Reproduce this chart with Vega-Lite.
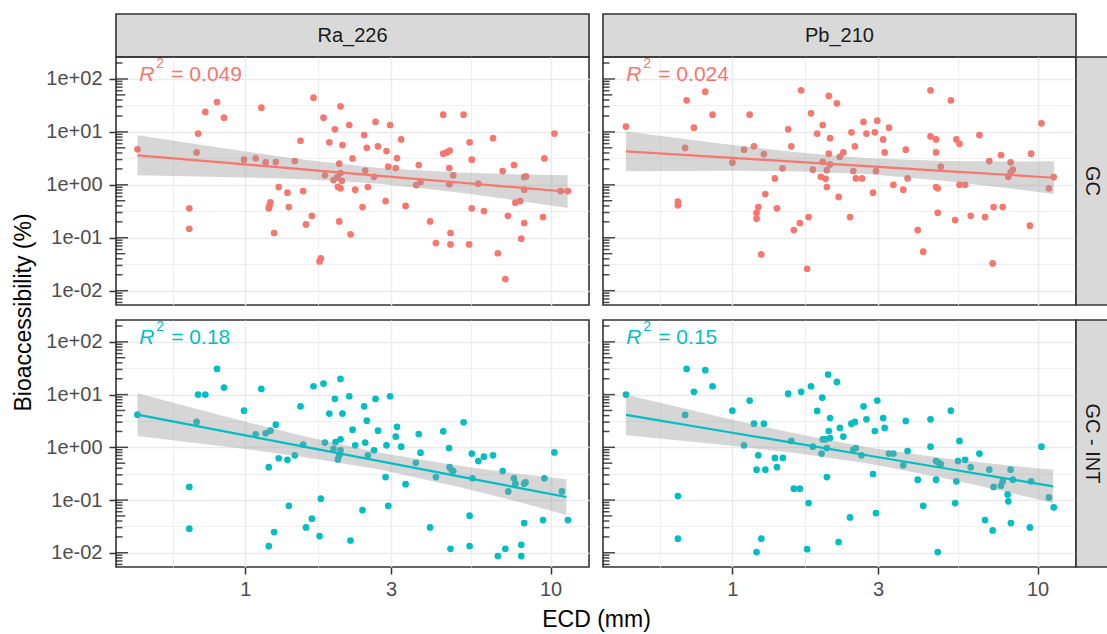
{
"$schema":"https://vega.github.io/schema/vega-lite/v6.json",
"padding":{"left":12,"top":13,"right":0,"bottom":0},
"background":"white",
"config":{
 "font":"Liberation Sans",
 "view":{"stroke":"#333333","strokeWidth":1.6},
 "axis":{"gridColor":"#EBEBEB","domain":false,"labelFont":"Liberation Sans","titleFont":"Liberation Sans","labelFontSize":20,"labelColor":"#4D4D4D","titleFontSize":23,"titleFontWeight":"normal","titleColor":"#000000","tickColor":"#333333","tickWidth":1.5,"tickSize":7,"labelPadding":7,"titlePadding":10}
},
"datasets":{
 "ticks":[{"v":0.006,"k":"s"},{"v":0.007,"k":"s"},{"v":0.008,"k":"s"},{"v":0.009,"k":"s"},{"v":0.01,"k":"L"},{"v":0.02,"k":"s"},{"v":0.03,"k":"s"},{"v":0.04,"k":"s"},{"v":0.05,"k":"m"},{"v":0.06,"k":"s"},{"v":0.07,"k":"s"},{"v":0.08,"k":"s"},{"v":0.09,"k":"s"},{"v":0.1,"k":"L"},{"v":0.2,"k":"s"},{"v":0.3,"k":"s"},{"v":0.4,"k":"s"},{"v":0.5,"k":"m"},{"v":0.6,"k":"s"},{"v":0.7,"k":"s"},{"v":0.8,"k":"s"},{"v":0.9,"k":"s"},{"v":1,"k":"L"},{"v":2,"k":"s"},{"v":3,"k":"s"},{"v":4,"k":"s"},{"v":5,"k":"m"},{"v":6,"k":"s"},{"v":7,"k":"s"},{"v":8,"k":"s"},{"v":9,"k":"s"},{"v":10,"k":"L"},{"v":20,"k":"s"},{"v":30,"k":"s"},{"v":40,"k":"s"},{"v":50,"k":"m"},{"v":60,"k":"s"},{"v":70,"k":"s"},{"v":80,"k":"s"},{"v":90,"k":"s"},{"v":100,"k":"L"},{"v":200,"k":"s"}],
 "ra_gc":[{"ecd":0.443,"bio":4.7},{"ecd":0.655,"bio":0.36},{"ecd":0.655,"bio":0.148},{"ecd":0.692,"bio":4.1},{"ecd":0.70,"bio":9.3},{"ecd":0.739,"bio":23.8},{"ecd":0.807,"bio":36.7},{"ecd":0.851,"bio":18.6},{"ecd":0.99,"bio":2.99},{"ecd":1.081,"bio":3.17},{"ecd":1.128,"bio":28.7},{"ecd":1.166,"bio":2.66},{"ecd":1.193,"bio":0.36},{"ecd":1.208,"bio":0.467},{"ecd":1.2,"bio":0.41},{"ecd":1.242,"bio":0.123},{"ecd":1.258,"bio":2.69},{"ecd":1.286,"bio":0.908},{"ecd":1.374,"bio":0.71},{"ecd":1.388,"bio":0.38},{"ecd":1.452,"bio":2.82},{"ecd":1.516,"bio":6.8},{"ecd":1.546,"bio":0.764},{"ecd":1.58,"bio":0.179},{"ecd":1.651,"bio":0.26},{"ecd":1.672,"bio":44.3},{"ecd":1.75,"bio":0.0357},{"ecd":1.767,"bio":0.0408},{"ecd":1.803,"bio":18.6},{"ecd":1.822,"bio":1.51},{"ecd":1.884,"bio":6.35},{"ecd":1.945,"bio":1.23},{"ecd":1.965,"bio":11.2},{"ecd":2.0,"bio":1.38},{"ecd":2.01,"bio":0.92},{"ecd":2.03,"bio":2.51},{"ecd":2.03,"bio":0.204},{"ecd":2.05,"bio":30.4},{"ecd":2.05,"bio":1.67},{"ecd":2.05,"bio":0.86},{"ecd":2.07,"bio":1.19},{"ecd":2.08,"bio":5.65},{"ecd":2.19,"bio":13.5},{"ecd":2.21,"bio":0.116},{"ecd":2.245,"bio":3.16},{"ecd":2.29,"bio":0.81},{"ecd":2.42,"bio":0.38},{"ecd":2.45,"bio":8.7},{"ecd":2.47,"bio":1.85},{"ecd":2.50,"bio":5.0},{"ecd":2.52,"bio":0.91},{"ecd":2.64,"bio":1.42},{"ecd":2.67,"bio":15.4},{"ecd":2.72,"bio":5.33},{"ecd":2.88,"bio":0.494},{"ecd":2.90,"bio":4.36},{"ecd":2.94,"bio":2.2},{"ecd":2.98,"bio":13.5},{"ecd":3.11,"bio":2.08},{"ecd":3.14,"bio":3.2},{"ecd":3.24,"bio":7.2},{"ecd":3.35,"bio":0.40},{"ecd":3.63,"bio":0.99},{"ecd":3.70,"bio":2.36},{"ecd":3.75,"bio":1.13},{"ecd":4.03,"bio":0.204},{"ecd":4.21,"bio":0.0794},{"ecd":4.45,"bio":21.2},{"ecd":4.45,"bio":3.88},{"ecd":4.57,"bio":4.1},{"ecd":4.67,"bio":4.42},{"ecd":4.66,"bio":2.08},{"ecd":4.66,"bio":1.03},{"ecd":4.70,"bio":0.123},{"ecd":4.70,"bio":0.075},{"ecd":4.80,"bio":1.51},{"ecd":5.19,"bio":21.2},{"ecd":5.43,"bio":6.35},{"ecd":5.52,"bio":2.99},{"ecd":5.52,"bio":0.36},{"ecd":5.41,"bio":0.075},{"ecd":5.80,"bio":1.05},{"ecd":6.05,"bio":0.32},{"ecd":6.48,"bio":7.6},{"ecd":6.72,"bio":0.051},{"ecd":6.97,"bio":1.82},{"ecd":7.11,"bio":0.0166},{"ecd":7.25,"bio":0.26},{"ecd":7.59,"bio":2.36},{"ecd":7.67,"bio":0.46},{"ecd":7.96,"bio":0.494},{"ecd":8.02,"bio":0.096},{"ecd":8.20,"bio":1.40},{"ecd":8.20,"bio":0.81},{"ecd":8.20,"bio":0.19},{"ecd":8.31,"bio":1.44},{"ecd":9.45,"bio":0.246},{"ecd":9.55,"bio":3.16},{"ecd":10.3,"bio":9.3},{"ecd":10.8,"bio":0.764},{"ecd":11.4,"bio":0.764}],
 "pb_gc":[{"ecd":0.448,"bio":12.6},{"ecd":0.663,"bio":0.48},{"ecd":0.663,"bio":0.41},{"ecd":0.70,"bio":4.97},{"ecd":0.708,"bio":39.5},{"ecd":0.748,"bio":12},{"ecd":0.815,"bio":57.5},{"ecd":0.861,"bio":21.2},{"ecd":1.0,"bio":2.62},{"ecd":1.092,"bio":4.61},{"ecd":1.139,"bio":21.2},{"ecd":1.177,"bio":5.33},{"ecd":1.20,"bio":0.229},{"ecd":1.20,"bio":0.297},{"ecd":1.216,"bio":0.38},{"ecd":1.244,"bio":0.0484},{"ecd":1.268,"bio":3.82},{"ecd":1.282,"bio":0.67},{"ecd":1.378,"bio":1.32},{"ecd":1.40,"bio":0.36},{"ecd":1.46,"bio":2.05},{"ecd":1.524,"bio":11.2},{"ecd":1.56,"bio":5.33},{"ecd":1.59,"bio":0.14},{"ecd":1.664,"bio":0.19},{"ecd":1.68,"bio":61},{"ecd":1.758,"bio":0.026},{"ecd":1.777,"bio":0.246},{"ecd":1.81,"bio":22.4},{"ecd":1.835,"bio":1.93},{"ecd":1.896,"bio":9.3},{"ecd":1.95,"bio":1.42},{"ecd":1.977,"bio":13.5},{"ecd":1.977,"bio":2.73},{"ecd":2.02,"bio":1.30},{"ecd":2.04,"bio":0.91},{"ecd":2.04,"bio":1.90},{"ecd":2.07,"bio":47.8},{"ecd":2.07,"bio":3.88},{"ecd":2.09,"bio":7.6},{"ecd":2.09,"bio":2.43},{"ecd":2.2,"bio":34.7},{"ecd":2.23,"bio":0.59},{"ecd":2.25,"bio":3.39},{"ecd":2.31,"bio":4.1},{"ecd":2.43,"bio":0.246},{"ecd":2.455,"bio":9.8},{"ecd":2.49,"bio":1.82},{"ecd":2.52,"bio":5.33},{"ecd":2.54,"bio":1.32},{"ecd":2.66,"bio":1.32},{"ecd":2.69,"bio":15.4},{"ecd":2.75,"bio":9.3},{"ecd":2.89,"bio":0.71},{"ecd":2.93,"bio":9.8},{"ecd":2.955,"bio":1.82},{"ecd":2.985,"bio":16.3},{"ecd":3.12,"bio":7.2},{"ecd":3.155,"bio":4.1},{"ecd":3.26,"bio":12},{"ecd":3.37,"bio":1.0},{"ecd":3.63,"bio":0.81},{"ecd":3.70,"bio":4.61},{"ecd":3.75,"bio":1.32},{"ecd":4.05,"bio":0.14},{"ecd":4.22,"bio":0.0545},{"ecd":4.46,"bio":61},{"ecd":4.46,"bio":8.2},{"ecd":4.65,"bio":7.2},{"ecd":4.65,"bio":4.1},{"ecd":4.65,"bio":0.91},{"ecd":4.71,"bio":0.86},{"ecd":4.71,"bio":0.297},{"ecd":4.82,"bio":2.2},{"ecd":5.2,"bio":39.5},{"ecd":5.37,"bio":0.216},{"ecd":5.42,"bio":7.2},{"ecd":5.55,"bio":5.97},{"ecd":5.55,"bio":1.0},{"ecd":5.79,"bio":1.0},{"ecd":6.04,"bio":0.26},{"ecd":6.45,"bio":8.7},{"ecd":6.73,"bio":0.246},{"ecd":6.95,"bio":2.81},{"ecd":7.13,"bio":0.0327},{"ecd":7.18,"bio":0.38},{"ecd":7.59,"bio":3.66},{"ecd":7.69,"bio":0.38},{"ecd":8.02,"bio":1.42},{"ecd":8.16,"bio":2.66},{"ecd":8.16,"bio":1.71},{"ecd":8.3,"bio":1.93},{"ecd":9.44,"bio":0.169},{"ecd":9.53,"bio":3.88},{"ecd":10.3,"bio":14.5},{"ecd":10.9,"bio":0.86},{"ecd":11.3,"bio":1.40}],
 "ra_int":[{"ecd":0.443,"bio":4.17},{"ecd":0.655,"bio":0.177},{"ecd":0.655,"bio":0.0286},{"ecd":0.692,"bio":3.03},{"ecd":0.70,"bio":10},{"ecd":0.739,"bio":10},{"ecd":0.807,"bio":30.7},{"ecd":0.851,"bio":13.6},{"ecd":0.99,"bio":4.96},{"ecd":1.081,"bio":1.77},{"ecd":1.128,"bio":12.8},{"ecd":1.166,"bio":1.85},{"ecd":1.193,"bio":0.42},{"ecd":1.193,"bio":0.0134},{"ecd":1.208,"bio":2.07},{"ecd":1.242,"bio":0.0247},{"ecd":1.258,"bio":2.69},{"ecd":1.286,"bio":0.62},{"ecd":1.374,"bio":0.58},{"ecd":1.388,"bio":0.078},{"ecd":1.452,"bio":0.705},{"ecd":1.516,"bio":6.0},{"ecd":1.546,"bio":1.12},{"ecd":1.58,"bio":0.0303},{"ecd":1.651,"bio":0.0443},{"ecd":1.672,"bio":14.4},{"ecd":1.75,"bio":0.0207},{"ecd":1.767,"bio":0.106},{"ecd":1.803,"bio":16.2},{"ecd":1.822,"bio":1.23},{"ecd":1.884,"bio":4.36},{"ecd":1.945,"bio":0.94},{"ecd":1.965,"bio":8.3},{"ecd":1.975,"bio":1.26},{"ecd":2.01,"bio":0.59},{"ecd":2.03,"bio":0.705},{"ecd":2.05,"bio":19.8},{"ecd":2.05,"bio":1.42},{"ecd":2.05,"bio":0.88},{"ecd":2.08,"bio":4.36},{"ecd":2.19,"bio":9.3},{"ecd":2.21,"bio":0.0171},{"ecd":2.245,"bio":2.16},{"ecd":2.29,"bio":1.09},{"ecd":2.42,"bio":0.0645},{"ecd":2.45,"bio":6.0},{"ecd":2.47,"bio":1.23},{"ecd":2.50,"bio":3.2},{"ecd":2.52,"bio":0.705},{"ecd":2.64,"bio":0.88},{"ecd":2.67,"bio":8.3},{"ecd":2.72,"bio":2.07},{"ecd":2.88,"bio":0.273},{"ecd":2.90,"bio":1.09},{"ecd":2.94,"bio":0.078},{"ecd":2.98,"bio":9.3},{"ecd":3.11,"bio":1.6},{"ecd":3.14,"bio":2.45},{"ecd":3.24,"bio":1.03},{"ecd":3.35,"bio":0.2},{"ecd":3.62,"bio":0.51},{"ecd":3.70,"bio":1.79},{"ecd":3.75,"bio":0.79},{"ecd":4.03,"bio":0.0303},{"ecd":4.21,"bio":0.273},{"ecd":4.45,"bio":2.01},{"ecd":4.65,"bio":0.97},{"ecd":4.67,"bio":0.42},{"ecd":4.70,"bio":0.0119},{"ecd":4.75,"bio":0.366},{"ecd":4.80,"bio":0.355},{"ecd":5.19,"bio":2.99},{"ecd":5.43,"bio":0.0505},{"ecd":5.43,"bio":0.0134},{"ecd":5.52,"bio":0.76},{"ecd":5.55,"bio":0.258},{"ecd":5.80,"bio":0.55},{"ecd":6.05,"bio":0.665},{"ecd":6.48,"bio":0.705},{"ecd":6.72,"bio":0.00865},{"ecd":6.97,"bio":0.355},{"ecd":7.11,"bio":0.0119},{"ecd":7.27,"bio":0.146},{"ecd":7.59,"bio":0.258},{"ecd":7.67,"bio":0.204},{"ecd":8.02,"bio":0.0142},{"ecd":8.02,"bio":0.00865},{"ecd":8.20,"bio":0.204},{"ecd":8.20,"bio":0.0366},{"ecd":8.28,"bio":0.216},{"ecd":9.45,"bio":0.0417},{"ecd":9.55,"bio":0.258},{"ecd":10.3,"bio":0.80},{"ecd":10.9,"bio":0.146},{"ecd":11.4,"bio":0.0417}],
 "pb_int":[{"ecd":0.448,"bio":10},{"ecd":0.663,"bio":0.119},{"ecd":0.663,"bio":0.0185},{"ecd":0.70,"bio":4.11},{"ecd":0.708,"bio":30.7},{"ecd":0.748,"bio":11.3},{"ecd":0.815,"bio":29},{"ecd":0.861,"bio":14.4},{"ecd":1.0,"bio":4.96},{"ecd":1.092,"bio":1.09},{"ecd":1.139,"bio":7.7},{"ecd":1.177,"bio":2.81},{"ecd":1.20,"bio":0.377},{"ecd":1.20,"bio":0.0103},{"ecd":1.216,"bio":0.705},{"ecd":1.244,"bio":0.0185},{"ecd":1.268,"bio":2.81},{"ecd":1.282,"bio":0.377},{"ecd":1.378,"bio":0.63},{"ecd":1.40,"bio":0.42},{"ecd":1.464,"bio":0.63},{"ecd":1.524,"bio":10.4},{"ecd":1.56,"bio":1.32},{"ecd":1.59,"bio":0.164},{"ecd":1.664,"bio":0.164},{"ecd":1.68,"bio":11.3},{"ecd":1.758,"bio":0.0117},{"ecd":1.777,"bio":0.0877},{"ecd":1.81,"bio":14.4},{"ecd":1.835,"bio":1.03},{"ecd":1.896,"bio":4.9},{"ecd":1.96,"bio":0.76},{"ecd":1.97,"bio":8.8},{"ecd":1.977,"bio":1.42},{"ecd":2.02,"bio":1.42},{"ecd":2.04,"bio":0.273},{"ecd":2.04,"bio":0.97},{"ecd":2.06,"bio":24},{"ecd":2.07,"bio":2.04},{"ecd":2.09,"bio":3.6},{"ecd":2.09,"bio":1.5},{"ecd":2.2,"bio":17.4},{"ecd":2.23,"bio":0.016},{"ecd":2.25,"bio":2.33},{"ecd":2.31,"bio":1.6},{"ecd":2.43,"bio":0.0469},{"ecd":2.455,"bio":2.81},{"ecd":2.52,"bio":3.03},{"ecd":2.49,"bio":0.90},{"ecd":2.54,"bio":0.97},{"ecd":2.65,"bio":0.705},{"ecd":2.69,"bio":6.0},{"ecd":2.75,"bio":3.4},{"ecd":2.89,"bio":0.312},{"ecd":2.93,"bio":2.04},{"ecd":2.955,"bio":0.0566},{"ecd":2.985,"bio":7.7},{"ecd":3.12,"bio":3.6},{"ecd":3.155,"bio":2.33},{"ecd":3.26,"bio":0.76},{"ecd":3.37,"bio":0.76},{"ecd":3.63,"bio":0.455},{"ecd":3.70,"bio":3.16},{"ecd":3.75,"bio":0.85},{"ecd":4.05,"bio":0.243},{"ecd":4.22,"bio":0.078},{"ecd":4.46,"bio":3.4},{"ecd":4.46,"bio":1.03},{"ecd":4.65,"bio":0.55},{"ecd":4.65,"bio":0.243},{"ecd":4.71,"bio":0.0103},{"ecd":4.72,"bio":0.52},{"ecd":4.82,"bio":0.483},{"ecd":5.2,"bio":4.96},{"ecd":5.37,"bio":0.0877},{"ecd":5.42,"bio":0.226},{"ecd":5.49,"bio":0.55},{"ecd":5.55,"bio":1.32},{"ecd":5.79,"bio":0.58},{"ecd":6.04,"bio":0.42},{"ecd":6.45,"bio":0.76},{"ecd":6.73,"bio":0.0417},{"ecd":6.95,"bio":0.377},{"ecd":7.13,"bio":0.0265},{"ecd":7.18,"bio":0.177},{"ecd":7.59,"bio":0.187},{"ecd":7.69,"bio":0.226},{"ecd":7.98,"bio":0.128},{"ecd":8.02,"bio":0.0944},{"ecd":8.16,"bio":0.377},{"ecd":8.18,"bio":0.0366},{"ecd":8.3,"bio":0.243},{"ecd":9.44,"bio":0.0303},{"ecd":9.53,"bio":0.226},{"ecd":10.3,"bio":1.03},{"ecd":10.9,"bio":0.112},{"ecd":11.3,"bio":0.0726}],
 "fit_ra_gc":[{"ecd":0.443,"fit":3.61,"lo":1.51,"hi":8.61},{"ecd":1.0,"fit":2.43,"lo":1.38,"hi":4.26},{"ecd":1.585,"fit":1.94,"lo":1.27,"hi":2.95},{"ecd":2.754,"fit":1.48,"lo":1.047,"hi":2.09},{"ecd":5.01,"fit":1.107,"lo":0.717,"hi":1.708},{"ecd":7.94,"fit":0.883,"lo":0.495,"hi":1.574},{"ecd":11.38,"fit":0.741,"lo":0.364,"hi":1.51}],
 "fit_pb_gc":[{"ecd":0.448,"fit":4.30,"lo":1.81,"hi":10.2},{"ecd":1.0,"fit":3.23,"lo":1.84,"hi":5.66},{"ecd":1.585,"fit":2.74,"lo":1.80,"hi":4.18},{"ecd":2.754,"fit":2.25,"lo":1.60,"hi":3.18},{"ecd":5.01,"fit":1.82,"lo":1.18,"hi":2.82},{"ecd":7.94,"fit":1.55,"lo":0.869,"hi":2.76},{"ecd":11.32,"fit":1.36,"lo":0.67,"hi":2.78}],
 "fit_ra_int":[{"ecd":0.443,"fit":4.17,"lo":1.64,"hi":10.6},{"ecd":1.0,"fit":1.68,"lo":0.925,"hi":3.06},{"ecd":1.585,"fit":1.01,"lo":0.644,"hi":1.58},{"ecd":2.754,"fit":0.546,"lo":0.378,"hi":0.789},{"ecd":5.01,"fit":0.281,"lo":0.177,"hi":0.445},{"ecd":7.94,"fit":0.168,"lo":0.0908,"hi":0.312},{"ecd":11.27,"fit":0.114,"lo":0.0522,"hi":0.249}],
 "fit_pb_int":[{"ecd":0.448,"fit":4.11,"lo":1.70,"hi":9.93},{"ecd":1.0,"fit":1.89,"lo":1.07,"hi":3.33},{"ecd":1.585,"fit":1.21,"lo":0.789,"hi":1.86},{"ecd":2.754,"fit":0.708,"lo":0.499,"hi":1.0},{"ecd":5.01,"fit":0.397,"lo":0.256,"hi":0.615},{"ecd":7.94,"fit":0.254,"lo":0.1416,"hi":0.456},{"ecd":11.25,"fit":0.1816,"lo":0.0877,"hi":0.376}]
},
"columns":4,
"spacing":0,
"bounds":"flush",
"concat":[
 {"width":473,"height":43,"data":{"values":[{"s":"Ra_226"}]},"mark":{"type":"text","fontSize":20,"color":"#1A1A1A"},"encoding":{"text":{"field":"s"}},"view":{"fill":"#D9D9D9","stroke":"#333333","strokeWidth":1.6}},
 {"width":14,"height":43,"data":{"values":[]},"mark":"point","view":{"stroke":null}},
 {"width":473,"height":43,"data":{"values":[{"s":"Pb_210"}]},"mark":{"type":"text","fontSize":20,"color":"#1A1A1A"},"encoding":{"text":{"field":"s"}},"view":{"fill":"#D9D9D9","stroke":"#333333","strokeWidth":1.6}},
 {"width":32,"height":43,"data":{"values":[]},"mark":"point","view":{"stroke":null}},

 {"width":473,"height":248,"layer":[
  {"data":{"name":"ra_gc"},"mark":{"type":"circle","size":45,"opacity":1,"color":"#F8766D"},"encoding":{
   "x":{"field":"ecd","type":"quantitative","scale":{"type":"log","domain":[0.3767,13.37],"nice":false},"axis":{"values":[0.577,1,1.732,3,5.477,10],"labels":false,"ticks":false,"title":null,"gridWidth":{"condition":{"test":"datum.value==1||datum.value==3||datum.value==10","value":1.5},"value":0.8}}},
   "y":{"field":"bio","type":"quantitative","scale":{"type":"log","domain":[0.00537,260],"nice":false},"axis":{"values":[0.01,0.03162,0.1,0.3162,1,3.162,10,31.62,100],"title":"Bioaccessibility (%)","titleY":255,"labelExpr":"abs(log(datum.value)/LN10-round(log(datum.value)/LN10))<0.01?('1e'+(datum.value>=1?'+':'-')+'0'+abs(round(log(datum.value)/LN10))):''","tickOpacity":{"condition":{"test":"abs(log(datum.value)/LN10-round(log(datum.value)/LN10))<0.01","value":1},"value":0},"gridWidth":{"condition":{"test":"abs(log(datum.value)/LN10-round(log(datum.value)/LN10))<0.01","value":1.5},"value":0.8}}}}},
  {"data":{"name":"fit_ra_gc"},"mark":{"type":"area","color":"#999999","opacity":0.4},"encoding":{"x":{"field":"ecd","type":"quantitative"},"y":{"field":"lo","type":"quantitative"},"y2":{"field":"hi"}}},
  {"data":{"name":"fit_ra_gc"},"mark":{"type":"line","color":"#F8766D","strokeWidth":2.2},"encoding":{"x":{"field":"ecd","type":"quantitative"},"y":{"field":"fit","type":"quantitative"}}},
  {"data":{"values":[{"t":"= 0.049"}]},"mark":{"type":"text","text":"R","fontStyle":"italic","fontSize":21,"align":"left","baseline":"alphabetic","color":"#F8766D"},"encoding":{"x":{"datum":0.449,"type":"quantitative"},"y":{"datum":93,"type":"quantitative"}}},
  {"data":{"values":[{"t":"= 0.049"}]},"mark":{"type":"text","text":"2","fontSize":14,"dx":17,"dy":-13,"align":"left","baseline":"alphabetic","color":"#F8766D"},"encoding":{"x":{"datum":0.449,"type":"quantitative"},"y":{"datum":93,"type":"quantitative"}}},
  {"data":{"values":[{"t":"= 0.049"}]},"mark":{"type":"text","fontSize":21,"dx":32,"align":"left","baseline":"alphabetic","color":"#F8766D"},"encoding":{"x":{"datum":0.449,"type":"quantitative"},"y":{"datum":93,"type":"quantitative"},"text":{"field":"t"}}},
  {"data":{"name":"ticks"},"mark":{"type":"tick","orient":"horizontal","clip":true,"color":"#000000","thickness":1.5},"encoding":{"x":{"datum":0.3767,"type":"quantitative"},"y":{"field":"v","type":"quantitative"},"size":{"field":"k","type":"nominal","scale":{"domain":["s","m","L"],"range":[13,24,35]},"legend":null}}}
 ]},
 {"width":14,"height":248,"data":{"values":[]},"mark":"point","view":{"stroke":null}},
 {"width":473,"height":248,"layer":[
  {"data":{"name":"pb_gc"},"mark":{"type":"circle","size":45,"opacity":1,"color":"#F8766D"},"encoding":{
   "x":{"field":"ecd","type":"quantitative","scale":{"type":"log","domain":[0.3767,13.37],"nice":false},"axis":{"values":[0.577,1,1.732,3,5.477,10],"labels":false,"ticks":false,"title":null,"gridWidth":{"condition":{"test":"datum.value==1||datum.value==3||datum.value==10","value":1.5},"value":0.8}}},
   "y":{"field":"bio","type":"quantitative","scale":{"type":"log","domain":[0.00537,260],"nice":false},"axis":{"values":[0.01,0.03162,0.1,0.3162,1,3.162,10,31.62,100],"labels":false,"ticks":false,"title":null,"gridWidth":{"condition":{"test":"abs(log(datum.value)/LN10-round(log(datum.value)/LN10))<0.01","value":1.5},"value":0.8}}}}},
  {"data":{"name":"fit_pb_gc"},"mark":{"type":"area","color":"#999999","opacity":0.4},"encoding":{"x":{"field":"ecd","type":"quantitative"},"y":{"field":"lo","type":"quantitative"},"y2":{"field":"hi"}}},
  {"data":{"name":"fit_pb_gc"},"mark":{"type":"line","color":"#F8766D","strokeWidth":2.2},"encoding":{"x":{"field":"ecd","type":"quantitative"},"y":{"field":"fit","type":"quantitative"}}},
  {"data":{"values":[{"t":"= 0.024"}]},"mark":{"type":"text","text":"R","fontStyle":"italic","fontSize":21,"align":"left","baseline":"alphabetic","color":"#F8766D"},"encoding":{"x":{"datum":0.449,"type":"quantitative"},"y":{"datum":93,"type":"quantitative"}}},
  {"data":{"values":[{"t":"= 0.024"}]},"mark":{"type":"text","text":"2","fontSize":14,"dx":17,"dy":-13,"align":"left","baseline":"alphabetic","color":"#F8766D"},"encoding":{"x":{"datum":0.449,"type":"quantitative"},"y":{"datum":93,"type":"quantitative"}}},
  {"data":{"values":[{"t":"= 0.024"}]},"mark":{"type":"text","fontSize":21,"dx":32,"align":"left","baseline":"alphabetic","color":"#F8766D"},"encoding":{"x":{"datum":0.449,"type":"quantitative"},"y":{"datum":93,"type":"quantitative"},"text":{"field":"t"}}},
  {"data":{"name":"ticks"},"mark":{"type":"tick","orient":"horizontal","clip":true,"color":"#000000","thickness":1.5},"encoding":{"x":{"datum":0.3767,"type":"quantitative"},"y":{"field":"v","type":"quantitative"},"size":{"field":"k","type":"nominal","scale":{"domain":["s","m","L"],"range":[13,24,35]},"legend":null}}}
 ]},
 {"width":32,"height":248,"data":{"values":[{"s":"GC"}]},"mark":{"type":"text","angle":90,"fontSize":20,"color":"#1A1A1A"},"encoding":{"text":{"field":"s"}},"view":{"fill":"#D9D9D9","stroke":"#333333","strokeWidth":1.6}},

 {"width":473,"height":15,"data":{"values":[]},"mark":"point","view":{"stroke":null}},
 {"width":14,"height":15,"data":{"values":[]},"mark":"point","view":{"stroke":null}},
 {"width":473,"height":15,"data":{"values":[]},"mark":"point","view":{"stroke":null}},
 {"width":32,"height":15,"data":{"values":[]},"mark":"point","view":{"stroke":null}},

 {"width":473,"height":247,"layer":[
  {"data":{"name":"ra_int"},"mark":{"type":"circle","size":45,"opacity":1,"color":"#00BFC4"},"encoding":{
   "x":{"field":"ecd","type":"quantitative","scale":{"type":"log","domain":[0.3767,13.37],"nice":false},"axis":{"values":[0.577,1,1.732,3,5.477,10],"title":"ECD (mm)","titleX":480,"titlePadding":9,"labelExpr":"(datum.value==1||datum.value==3||datum.value==10)?(''+datum.value):''","labelPadding":5,"tickOpacity":{"condition":{"test":"datum.value==1||datum.value==3||datum.value==10","value":1},"value":0},"gridWidth":{"condition":{"test":"datum.value==1||datum.value==3||datum.value==10","value":1.5},"value":0.8}}},
   "y":{"field":"bio","type":"quantitative","scale":{"type":"log","domain":[0.00537,260],"nice":false},"axis":{"values":[0.01,0.03162,0.1,0.3162,1,3.162,10,31.62,100],"title":null,"labelExpr":"abs(log(datum.value)/LN10-round(log(datum.value)/LN10))<0.01?('1e'+(datum.value>=1?'+':'-')+'0'+abs(round(log(datum.value)/LN10))):''","tickOpacity":{"condition":{"test":"abs(log(datum.value)/LN10-round(log(datum.value)/LN10))<0.01","value":1},"value":0},"gridWidth":{"condition":{"test":"abs(log(datum.value)/LN10-round(log(datum.value)/LN10))<0.01","value":1.5},"value":0.8}}}}},
  {"data":{"name":"fit_ra_int"},"mark":{"type":"area","color":"#999999","opacity":0.4},"encoding":{"x":{"field":"ecd","type":"quantitative"},"y":{"field":"lo","type":"quantitative"},"y2":{"field":"hi"}}},
  {"data":{"name":"fit_ra_int"},"mark":{"type":"line","color":"#00BFC4","strokeWidth":2.2},"encoding":{"x":{"field":"ecd","type":"quantitative"},"y":{"field":"fit","type":"quantitative"}}},
  {"data":{"values":[{"t":"= 0.18"}]},"mark":{"type":"text","text":"R","fontStyle":"italic","fontSize":21,"align":"left","baseline":"alphabetic","color":"#00BFC4"},"encoding":{"x":{"datum":0.449,"type":"quantitative"},"y":{"datum":93,"type":"quantitative"}}},
  {"data":{"values":[{"t":"= 0.18"}]},"mark":{"type":"text","text":"2","fontSize":14,"dx":17,"dy":-13,"align":"left","baseline":"alphabetic","color":"#00BFC4"},"encoding":{"x":{"datum":0.449,"type":"quantitative"},"y":{"datum":93,"type":"quantitative"}}},
  {"data":{"values":[{"t":"= 0.18"}]},"mark":{"type":"text","fontSize":21,"dx":32,"align":"left","baseline":"alphabetic","color":"#00BFC4"},"encoding":{"x":{"datum":0.449,"type":"quantitative"},"y":{"datum":93,"type":"quantitative"},"text":{"field":"t"}}},
  {"data":{"name":"ticks"},"mark":{"type":"tick","orient":"horizontal","clip":true,"color":"#000000","thickness":1.5},"encoding":{"x":{"datum":0.3767,"type":"quantitative"},"y":{"field":"v","type":"quantitative"},"size":{"field":"k","type":"nominal","scale":{"domain":["s","m","L"],"range":[13,24,35]},"legend":null}}}
 ]},
 {"width":14,"height":247,"data":{"values":[]},"mark":"point","view":{"stroke":null}},
 {"width":473,"height":247,"layer":[
  {"data":{"name":"pb_int"},"mark":{"type":"circle","size":45,"opacity":1,"color":"#00BFC4"},"encoding":{
   "x":{"field":"ecd","type":"quantitative","scale":{"type":"log","domain":[0.3767,13.37],"nice":false},"axis":{"values":[0.577,1,1.732,3,5.477,10],"title":null,"labelExpr":"(datum.value==1||datum.value==3||datum.value==10)?(''+datum.value):''","labelPadding":5,"tickOpacity":{"condition":{"test":"datum.value==1||datum.value==3||datum.value==10","value":1},"value":0},"gridWidth":{"condition":{"test":"datum.value==1||datum.value==3||datum.value==10","value":1.5},"value":0.8}}},
   "y":{"field":"bio","type":"quantitative","scale":{"type":"log","domain":[0.00537,260],"nice":false},"axis":{"values":[0.01,0.03162,0.1,0.3162,1,3.162,10,31.62,100],"labels":false,"ticks":false,"title":null,"gridWidth":{"condition":{"test":"abs(log(datum.value)/LN10-round(log(datum.value)/LN10))<0.01","value":1.5},"value":0.8}}}}},
  {"data":{"name":"fit_pb_int"},"mark":{"type":"area","color":"#999999","opacity":0.4},"encoding":{"x":{"field":"ecd","type":"quantitative"},"y":{"field":"lo","type":"quantitative"},"y2":{"field":"hi"}}},
  {"data":{"name":"fit_pb_int"},"mark":{"type":"line","color":"#00BFC4","strokeWidth":2.2},"encoding":{"x":{"field":"ecd","type":"quantitative"},"y":{"field":"fit","type":"quantitative"}}},
  {"data":{"values":[{"t":"= 0.15"}]},"mark":{"type":"text","text":"R","fontStyle":"italic","fontSize":21,"align":"left","baseline":"alphabetic","color":"#00BFC4"},"encoding":{"x":{"datum":0.449,"type":"quantitative"},"y":{"datum":93,"type":"quantitative"}}},
  {"data":{"values":[{"t":"= 0.15"}]},"mark":{"type":"text","text":"2","fontSize":14,"dx":17,"dy":-13,"align":"left","baseline":"alphabetic","color":"#00BFC4"},"encoding":{"x":{"datum":0.449,"type":"quantitative"},"y":{"datum":93,"type":"quantitative"}}},
  {"data":{"values":[{"t":"= 0.15"}]},"mark":{"type":"text","fontSize":21,"dx":32,"align":"left","baseline":"alphabetic","color":"#00BFC4"},"encoding":{"x":{"datum":0.449,"type":"quantitative"},"y":{"datum":93,"type":"quantitative"},"text":{"field":"t"}}},
  {"data":{"name":"ticks"},"mark":{"type":"tick","orient":"horizontal","clip":true,"color":"#000000","thickness":1.5},"encoding":{"x":{"datum":0.3767,"type":"quantitative"},"y":{"field":"v","type":"quantitative"},"size":{"field":"k","type":"nominal","scale":{"domain":["s","m","L"],"range":[13,24,35]},"legend":null}}}
 ]},
 {"width":32,"height":247,"data":{"values":[{"s":"GC - INT"}]},"mark":{"type":"text","angle":90,"fontSize":20,"color":"#1A1A1A"},"encoding":{"text":{"field":"s"}},"view":{"fill":"#D9D9D9","stroke":"#333333","strokeWidth":1.6}}
]
}
